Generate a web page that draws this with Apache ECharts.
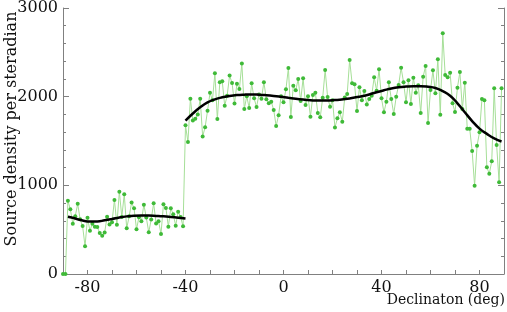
<!DOCTYPE html>
<html><head><meta charset="utf-8">
<script src="https://cdn.jsdelivr.net/npm/echarts@6/dist/echarts.min.js"></script>
<style>html,body{margin:0;padding:0;background:#fff}#c{width:507px;height:312px}</style>
</head><body><div id="c"></div>
<script>
// Declination bins: one per degree starting at -90
const declStart = -90;
const density = [
  0, 0, 825, 731, 566, 652, 791, 617, 540, 312,
  635, 487, 568, 532, 530, 462, 430, 468, 647, 558,
  585, 835, 556, 929, 643, 900, 515, 650, 805, 742,
  504, 640, 596, 782, 637, 470, 615, 797, 570, 596,
  452, 786, 745, 534, 741, 673, 545, 703, 643, 538,
  1677, 1489, 1977, 1730, 1752, 1799, 1977, 1551, 1654, 1842,
  2043, 1959, 2263, 1748, 2162, 2173, 1898, 2011, 2239, 2154,
  1923, 2146, 2086, 2374, 1862, 2005, 1872, 2150, 1981, 1884,
  2024, 1977, 2163, 1971, 1925, 1943, 1851, 1669, 1791, 2004,
  1936, 2083, 2323, 1771, 2124, 2071, 2199, 1951, 2207, 1906,
  2004, 1774, 2019, 2045, 1816, 1767, 1988, 2301, 1996, 1887,
  1960, 1652, 1756, 1823, 1718, 1992, 2030, 2413, 2150, 2139,
  1838, 2105, 1959, 2064, 1913, 1973, 2011, 2218, 2068, 2308,
  1981, 1823, 1944, 2162, 1973, 1804, 2000, 2131, 2327, 2162,
  1936, 2186, 1917, 2214, 2045, 2128, 1816, 2225, 2346, 1703,
  2075, 2297, 2038, 2421, 1797, 2714, 2244, 2218, 2271, 1925,
  1827, 2101, 2278, 1861, 2158, 1639, 1639, 1387, 996, 1447,
  1598, 1973, 1959, 1203, 1131, 1271, 2094, 1455, 1034, 2094
];
// Smooth fit, southern part
const fitLowDecl  = [-88, -85, -82, -79, -76, -73, -70, -67, -64, -61, -58, -55, -52, -49, -46, -43, -40];
const fitLowValue = [645, 625, 603, 592, 593, 605, 620, 637, 650, 658, 660, 659, 655, 650, 643, 635, 626];
// Smooth fit, northern part
const fitHighDecl  = [-40, -37, -34, -31, -28, -25, -22, -19, -16, -13, -10, -7, -4, -1, 2, 5, 8, 11, 14, 17, 20, 23, 26, 29, 32, 35, 38, 41, 44, 47, 50, 53, 56, 59, 62, 65, 68, 71, 74, 77, 80, 83, 86, 89];
const fitHighValue = [1729, 1810, 1880, 1935, 1970, 1993, 2008, 2018, 2023, 2025, 2022, 2016, 2008, 1998, 1987, 1976, 1967, 1960, 1956, 1956, 1960, 1966, 1976, 1990, 2005, 2025, 2050, 2072, 2092, 2106, 2114, 2118, 2118, 2112, 2098, 2062, 2010, 1925, 1825, 1725, 1640, 1580, 1530, 1495];
const xTickLabels = [-80, -40, 0, 40, 80];
const yTickLabels = [0, 1000, 2000, 3000];

const pts = density.map((v, i) => [declStart + i, v]);
const low = fitLowDecl.map((d, i) => [d, fitLowValue[i]]);
const high = fitHighDecl.map((d, i) => [d, fitHighValue[i]]);

const FONT = '"DejaVu Serif", serif';
const axisGray = '#808080';
const chart = echarts.init(document.getElementById('c'), null, {renderer: 'canvas'});
chart.setOption({
  animation: false,
  backgroundColor: '#fff',
  grid: {left: 63, right: 2, top: 8, bottom: 38, containLabel: false},
  xAxis: {
    type: 'value', min: -90, max: 90, interval: 10,
    axisLine: {show: true, onZero: false, lineStyle: {color: axisGray, width: 1}},
    axisTick: {show: true, inside: true, length: 4, lineStyle: {color: axisGray}},
    splitLine: {show: false},
    axisLabel: {
      show: true, margin: 6, color: '#111', fontFamily: FONT, fontSize: 16,
      showMinLabel: true, showMaxLabel: true,
      formatter: v => xTickLabels.includes(v) ? String(v) : ''
    }
  },
  yAxis: [{
    type: 'value', min: 0, max: 3000, interval: 1000, position: 'left',
    axisLine: {show: true, onZero: false, lineStyle: {color: axisGray, width: 1}},
    axisTick: {show: true, inside: true, length: 6, lineStyle: {color: axisGray}},
    minorTick: {show: true, splitNumber: 5, length: 3, lineStyle: {color: axisGray}},
    splitLine: {show: false},
    axisLabel: {margin: 5, color: '#111', fontFamily: FONT, fontSize: 16,
      formatter: v => yTickLabels.includes(v) ? String(v) : ''}
  }, {
    type: 'value', min: 0, max: 3000, interval: 1000, position: 'right',
    axisLine: {show: true, onZero: false, lineStyle: {color: axisGray, width: 1}},
    axisTick: {show: true, inside: true, length: 6, lineStyle: {color: axisGray}},
    minorTick: {show: true, splitNumber: 5, length: 3, lineStyle: {color: axisGray}},
    splitLine: {show: false},
    axisLabel: {show: false}
  }],
  graphic: [
    {type: 'text', x: 12, y: 129, rotation: Math.PI / 2,
      style: {text: 'Source density per steradian', font: '16px ' + FONT, fill: '#111', align: 'center', verticalAlign: 'middle'}},
    {type: 'text', x: 505, y: 300,
      style: {text: 'Declinaton (deg)', font: '14px ' + FONT, fill: '#111', align: 'right', verticalAlign: 'middle'}}
  ],
  series: [
    {type: 'line', data: pts, symbol: 'circle', symbolSize: 4, showSymbol: true, showAllSymbol: true,
      itemStyle: {color: '#3fba38', borderWidth: 0},
      lineStyle: {color: '#a6df98', width: 1}, z: 2, silent: true},
    {type: 'line', data: low, smooth: 0.5, symbol: 'none',
      lineStyle: {color: '#000', width: 2.5}, z: 3, silent: true},
    {type: 'line', data: high, smooth: 0.5, symbol: 'none',
      lineStyle: {color: '#000', width: 2.5}, z: 3, silent: true}
  ]
});
</script></body></html>
